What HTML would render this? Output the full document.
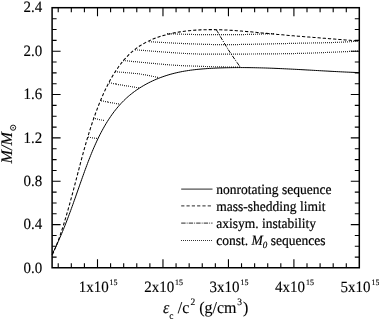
<!DOCTYPE html>
<html><head><meta charset="utf-8"><style>
html,body{margin:0;padding:0;background:#fff;width:379px;height:319px;overflow:hidden;font-family:"Liberation Serif",serif;}
</style></head><body>
<svg width="379" height="319" viewBox="0 0 379 319" style="position:absolute;left:0;top:0;will-change:transform">
<g fill="none" stroke="#000" stroke-linecap="butt">
<path d="M58.22 267.75v-4.5M58.22 7.7v4.5M71.31 267.75v-4.5M71.31 7.7v4.5M84.41 267.75v-4.5M84.41 7.7v4.5M97.50 267.75v-8.5M97.50 7.7v8.5M110.59 267.75v-4.5M110.59 7.7v4.5M123.69 267.75v-4.5M123.69 7.7v4.5M136.78 267.75v-4.5M136.78 7.7v4.5M149.88 267.75v-4.5M149.88 7.7v4.5M162.97 267.75v-8.5M162.97 7.7v8.5M176.06 267.75v-4.5M176.06 7.7v4.5M189.16 267.75v-4.5M189.16 7.7v4.5M202.25 267.75v-4.5M202.25 7.7v4.5M215.35 267.75v-4.5M215.35 7.7v4.5M228.44 267.75v-8.5M228.44 7.7v8.5M241.53 267.75v-4.5M241.53 7.7v4.5M254.63 267.75v-4.5M254.63 7.7v4.5M267.72 267.75v-4.5M267.72 7.7v4.5M280.82 267.75v-4.5M280.82 7.7v4.5M293.91 267.75v-8.5M293.91 7.7v8.5M307.00 267.75v-4.5M307.00 7.7v4.5M320.10 267.75v-4.5M320.10 7.7v4.5M333.19 267.75v-4.5M333.19 7.7v4.5M346.29 267.75v-4.5M346.29 7.7v4.5M52.1 257.16h4.5M359.3 257.16h-4.5M52.1 246.32h4.5M359.3 246.32h-4.5M52.1 235.48h4.5M359.3 235.48h-4.5M52.1 224.64h8.5M359.3 224.64h-8.5M52.1 213.80h4.5M359.3 213.80h-4.5M52.1 202.96h4.5M359.3 202.96h-4.5M52.1 192.12h4.5M359.3 192.12h-4.5M52.1 181.28h8.5M359.3 181.28h-8.5M52.1 170.44h4.5M359.3 170.44h-4.5M52.1 159.60h4.5M359.3 159.60h-4.5M52.1 148.76h4.5M359.3 148.76h-4.5M52.1 137.92h8.5M359.3 137.92h-8.5M52.1 127.08h4.5M359.3 127.08h-4.5M52.1 116.24h4.5M359.3 116.24h-4.5M52.1 105.40h4.5M359.3 105.40h-4.5M52.1 94.56h8.5M359.3 94.56h-8.5M52.1 83.72h4.5M359.3 83.72h-4.5M52.1 72.88h4.5M359.3 72.88h-4.5M52.1 62.04h4.5M359.3 62.04h-4.5M52.1 51.20h8.5M359.3 51.20h-8.5M52.1 40.36h4.5M359.3 40.36h-4.5M52.1 29.52h4.5M359.3 29.52h-4.5M52.1 18.68h4.5M359.3 18.68h-4.5" stroke-width="1.1"/>
<rect x="52.1" y="7.7" width="307.20" height="260.05" stroke-width="1.5"/>
<path d="M52.00 254.61 L52.96 252.69 L53.90 250.78 L54.83 248.86 L55.74 246.95 L56.63 245.03 L57.51 243.11 L58.37 241.20 L59.22 239.28 L60.06 237.37 L60.88 235.45 L61.69 233.54 L62.49 231.62 L63.28 229.70 L64.06 227.78 L64.83 225.86 L65.59 223.94 L66.34 222.02 L67.08 220.10 L67.82 218.17 L68.54 216.25 L69.26 214.32 L69.98 212.39 L70.69 210.46 L71.39 208.53 L72.09 206.59 L72.79 204.66 L73.48 202.72 L74.17 200.78 L74.86 198.84 L75.55 196.90 L76.23 194.95 L76.92 193.00 L77.60 191.05 L78.29 189.09 L78.98 187.14 L79.66 185.18 L80.36 183.21 L81.05 181.25 L81.75 179.28 L82.45 177.31 L83.16 175.33 L83.87 173.35 L84.58 171.37 L85.31 169.39 L86.04 167.40 L86.78 165.42 L87.52 163.43 L88.28 161.45 L89.04 159.47 L89.82 157.49 L90.60 155.52 L91.40 153.55 L92.21 151.59 L93.03 149.63 L93.87 147.68 L94.72 145.74 L95.58 143.80 L96.46 141.88 L97.35 139.97 L98.26 138.06 L99.19 136.17 L100.14 134.30 L101.10 132.43 L102.08 130.58 L103.09 128.75 L104.11 126.93 L105.15 125.13 L106.22 123.35 L107.30 121.58 L108.41 119.84 L109.55 118.11 L110.70 116.41 L111.88 114.72 L113.09 113.06 L114.32 111.43 L115.58 109.81 L116.87 108.23 L118.18 106.66 L119.52 105.13 L120.89 103.62 L122.29 102.14 L123.72 100.69 L125.18 99.27 L126.68 97.88 L128.20 96.53 L129.76 95.20 L131.35 93.91 L132.96 92.65 L134.61 91.42 L136.29 90.22 L137.99 89.06 L139.72 87.93 L141.47 86.83 L143.25 85.77 L145.06 84.74 L146.88 83.74 L148.72 82.78 L150.59 81.85 L152.47 80.95 L154.37 80.08 L156.29 79.25 L158.23 78.46 L160.18 77.69 L162.14 76.97 L164.12 76.27 L166.11 75.61 L168.10 74.98 L170.11 74.39 L172.13 73.83 L174.16 73.31 L176.19 72.82 L178.23 72.36 L180.28 71.93 L182.33 71.53 L184.39 71.16 L186.45 70.82 L188.52 70.50 L190.59 70.20 L192.67 69.93 L194.75 69.68 L196.83 69.45 L198.92 69.24 L201.01 69.05 L203.10 68.88 L205.19 68.72 L207.28 68.57 L209.38 68.44 L211.47 68.32 L213.57 68.22 L215.66 68.12 L217.75 68.03 L219.84 67.95 L221.93 67.88 L224.02 67.82 L226.11 67.76 L228.19 67.72 L230.28 67.68 L232.36 67.64 L234.45 67.62 L236.53 67.60 L238.62 67.59 L240.70 67.59 L242.78 67.59 L244.86 67.60 L246.94 67.62 L249.02 67.64 L251.10 67.67 L253.18 67.70 L255.26 67.74 L257.33 67.79 L259.41 67.84 L261.49 67.89 L263.56 67.95 L265.64 68.01 L267.72 68.08 L269.79 68.16 L271.87 68.23 L273.94 68.31 L276.02 68.40 L278.09 68.48 L280.17 68.58 L282.24 68.67 L284.32 68.77 L286.39 68.87 L288.46 68.97 L290.54 69.07 L292.61 69.18 L294.69 69.29 L296.76 69.40 L298.84 69.51 L300.91 69.62 L302.99 69.74 L305.07 69.85 L307.14 69.97 L309.22 70.09 L311.30 70.20 L313.37 70.32 L315.45 70.44 L317.53 70.56 L319.61 70.68 L321.69 70.79 L323.77 70.91 L325.85 71.03 L327.93 71.14 L330.01 71.25 L332.09 71.37 L334.17 71.48 L336.26 71.59 L338.34 71.69 L340.43 71.80 L342.51 71.90 L344.60 72.00 L346.69 72.10 L348.78 72.19 L350.87 72.29 L352.96 72.37 L355.05 72.46 L357.14 72.54 L359.24 72.62" stroke-width="1.0"/>
<path d="M52.41 254.62 L53.36 252.56 L54.27 250.48 L55.17 248.39 L56.03 246.30 L56.87 244.19 L57.68 242.07 L58.48 239.95 L59.25 237.82 L60.00 235.68 L60.74 233.54 L61.45 231.39 L62.16 229.23 L62.85 227.07 L63.53 224.90 L64.20 222.73 L64.86 220.55 L65.52 218.38 L66.16 216.19 L66.80 214.01 L67.44 211.82 L68.07 209.63 L68.69 207.44 L69.30 205.25 L69.91 203.05 L70.52 200.86 L71.12 198.66 L71.71 196.46 L72.31 194.26 L72.89 192.06 L73.48 189.85 L74.06 187.65 L74.64 185.45 L75.21 183.25 L75.79 181.05 L76.36 178.85 L76.94 176.65 L77.51 174.45 L78.08 172.25 L78.65 170.05 L79.23 167.85 L79.81 165.65 L80.39 163.46 L80.97 161.26 L81.55 159.07 L82.14 156.88 L82.74 154.69 L83.33 152.50 L83.94 150.31 L84.55 148.12 L85.16 145.94 L85.78 143.76 L86.41 141.58 L87.05 139.41 L87.70 137.23 L88.35 135.06 L89.01 132.90 L89.69 130.73 L90.37 128.57 L91.07 126.41 L91.77 124.25 L92.49 122.10 L93.22 119.95 L93.96 117.81 L94.72 115.67 L95.49 113.53 L96.27 111.40 L97.07 109.27 L97.88 107.14 L98.71 105.02 L99.56 102.90 L100.42 100.79 L101.30 98.68 L102.20 96.58 L103.12 94.49 L104.06 92.40 L105.02 90.32 L106.01 88.26 L107.02 86.20 L108.05 84.16 L109.12 82.13 L110.21 80.12 L111.33 78.12 L112.49 76.14 L113.67 74.18 L114.89 72.24 L116.15 70.32 L117.44 68.42 L118.76 66.55 L120.13 64.70 L121.53 62.89 L122.97 61.12 L124.45 59.38 L125.97 57.69 L127.52 56.04 L129.13 54.45 L130.77 52.90 L132.45 51.41 L134.18 49.97 L135.95 48.60 L137.76 47.29 L139.62 46.04 L141.51 44.85 L143.44 43.72 L145.40 42.64 L147.40 41.61 L149.43 40.64 L151.48 39.73 L153.57 38.86 L155.68 38.04 L157.81 37.27 L159.96 36.54 L162.14 35.86 L164.33 35.22 L166.53 34.63 L168.75 34.08 L170.98 33.56 L173.22 33.08 L175.47 32.64 L177.73 32.24 L179.98 31.87 L182.24 31.53 L184.51 31.22 L186.77 30.94 L189.03 30.69 L191.30 30.47 L193.57 30.28 L195.83 30.11 L198.10 29.97 L200.37 29.86 L202.65 29.77 L204.92 29.70 L207.19 29.65 L209.46 29.63 L211.74 29.63 L214.01 29.64 L216.29 29.68 L218.56 29.73 L220.84 29.80 L223.12 29.89 L225.39 29.99 L227.67 30.10 L229.95 30.23 L232.23 30.37 L234.50 30.53 L236.78 30.69 L239.06 30.86 L241.33 31.05 L243.61 31.24 L245.89 31.43 L248.16 31.64 L250.44 31.84 L252.71 32.06 L254.98 32.27 L257.26 32.49 L259.53 32.71 L261.80 32.94 L264.07 33.16 L266.34 33.38 L268.61 33.60 L270.87 33.81 L273.14 34.02 L275.40 34.23 L277.67 34.44 L279.93 34.64 L282.19 34.85 L284.45 35.04 L286.71 35.24 L288.97 35.43 L291.23 35.63 L293.49 35.81 L295.75 36.00 L298.01 36.19 L300.27 36.37 L302.53 36.56 L304.78 36.74 L307.04 36.92 L309.30 37.10 L311.56 37.28 L313.82 37.45 L316.08 37.63 L318.34 37.81 L320.60 37.98 L322.86 38.16 L325.12 38.34 L327.39 38.51 L329.65 38.69 L331.92 38.87 L334.18 39.04 L336.45 39.22 L338.72 39.40 L340.99 39.58 L343.26 39.76 L345.54 39.94 L347.81 40.13 L350.09 40.31 L352.37 40.50 L354.65 40.69 L356.93 40.88 L359.21 41.07" stroke-width="1.05" stroke-dasharray="3.2 2.0"/>
<path d="M167 33.11h1.0v1.2h-1.0zM169 33.18h1.0v1.2h-1.0zM171 33.24h1.0v1.2h-1.0zM173 33.31h1.0v1.2h-1.0zM175 33.37h1.0v1.2h-1.0zM177 33.44h1.0v1.2h-1.0zM179 33.5h1.0v1.2h-1.0zM181 33.57h1.0v1.2h-1.0zM183 33.63h1.0v1.2h-1.0zM185 33.68h1.0v1.2h-1.0zM187 33.74h1.0v1.2h-1.0zM189 33.79h1.0v1.2h-1.0zM191 33.84h1.0v1.2h-1.0zM193 33.89h1.0v1.2h-1.0zM195 33.93h1.0v1.2h-1.0zM197 33.96h1.0v1.2h-1.0zM199 33.99h1.0v1.2h-1.0zM201 34.02h1.0v1.2h-1.0zM203 34.04h1.0v1.2h-1.0zM205 34.06h1.0v1.2h-1.0zM207 34.07h1.0v1.2h-1.0zM209 34.09h1.0v1.2h-1.0zM211 34.1h1.0v1.2h-1.0zM213 34.11h1.0v1.2h-1.0zM215 34.11h1.0v1.2h-1.0zM217 34.12h1.0v1.2h-1.0zM219 34.12h1.0v1.2h-1.0zM221 34.12h1.0v1.2h-1.0zM223 34.12h1.0v1.2h-1.0zM225 34.11h1.0v1.2h-1.0zM227 34.1h1.0v1.2h-1.0zM229 34.09h1.0v1.2h-1.0zM231 34.08h1.0v1.2h-1.0zM233 34.07h1.0v1.2h-1.0zM235 34.05h1.0v1.2h-1.0zM237 34.03h1.0v1.2h-1.0zM239 34.01h1.0v1.2h-1.0zM241 33.98h1.0v1.2h-1.0zM243 33.94h1.0v1.2h-1.0zM245 33.9h1.0v1.2h-1.0zM247 33.86h1.0v1.2h-1.0zM249 33.81h1.0v1.2h-1.0zM251 33.76h1.0v1.2h-1.0zM253 33.7h1.0v1.2h-1.0zM255 33.64h1.0v1.2h-1.0zM257 33.58h1.0v1.2h-1.0zM259 33.52h1.0v1.2h-1.0zM261 33.45h1.0v1.2h-1.0zM263 33.39h1.0v1.2h-1.0zM265 33.32h1.0v1.2h-1.0zM267 33.25h1.0v1.2h-1.0zM269 33.18h1.0v1.2h-1.0zM271 33.11h1.0v1.2h-1.0zM273 33.05h1.0v1.2h-1.0zM149 41.13h1.0v1.2h-1.0zM151 41.23h1.0v1.2h-1.0zM153 41.34h1.0v1.2h-1.0zM155 41.46h1.0v1.2h-1.0zM157 41.57h1.0v1.2h-1.0zM159 41.68h1.0v1.2h-1.0zM161 41.79h1.0v1.2h-1.0zM163 41.91h1.0v1.2h-1.0zM165 42.02h1.0v1.2h-1.0zM167 42.13h1.0v1.2h-1.0zM169 42.23h1.0v1.2h-1.0zM171 42.34h1.0v1.2h-1.0zM173 42.44h1.0v1.2h-1.0zM175 42.55h1.0v1.2h-1.0zM177 42.65h1.0v1.2h-1.0zM179 42.75h1.0v1.2h-1.0zM181 42.84h1.0v1.2h-1.0zM183 42.93h1.0v1.2h-1.0zM185 43.02h1.0v1.2h-1.0zM187 43.1h1.0v1.2h-1.0zM189 43.18h1.0v1.2h-1.0zM191 43.25h1.0v1.2h-1.0zM193 43.33h1.0v1.2h-1.0zM195 43.4h1.0v1.2h-1.0zM197 43.47h1.0v1.2h-1.0zM199 43.55h1.0v1.2h-1.0zM201 43.62h1.0v1.2h-1.0zM203 43.68h1.0v1.2h-1.0zM205 43.74h1.0v1.2h-1.0zM207 43.8h1.0v1.2h-1.0zM209 43.85h1.0v1.2h-1.0zM211 43.89h1.0v1.2h-1.0zM213 43.93h1.0v1.2h-1.0zM215 43.96h1.0v1.2h-1.0zM217 43.98h1.0v1.2h-1.0zM219 44.0h1.0v1.2h-1.0zM221 44.01h1.0v1.2h-1.0zM223 44.01h1.0v1.2h-1.0zM225 44.01h1.0v1.2h-1.0zM227 44.01h1.0v1.2h-1.0zM229 44.0h1.0v1.2h-1.0zM231 43.99h1.0v1.2h-1.0zM233 43.97h1.0v1.2h-1.0zM235 43.95h1.0v1.2h-1.0zM237 43.93h1.0v1.2h-1.0zM239 43.9h1.0v1.2h-1.0zM241 43.87h1.0v1.2h-1.0zM243 43.84h1.0v1.2h-1.0zM245 43.8h1.0v1.2h-1.0zM247 43.77h1.0v1.2h-1.0zM249 43.73h1.0v1.2h-1.0zM251 43.69h1.0v1.2h-1.0zM253 43.65h1.0v1.2h-1.0zM255 43.61h1.0v1.2h-1.0zM257 43.57h1.0v1.2h-1.0zM259 43.52h1.0v1.2h-1.0zM261 43.48h1.0v1.2h-1.0zM263 43.44h1.0v1.2h-1.0zM265 43.39h1.0v1.2h-1.0zM267 43.35h1.0v1.2h-1.0zM269 43.3h1.0v1.2h-1.0zM271 43.25h1.0v1.2h-1.0zM273 43.21h1.0v1.2h-1.0zM275 43.16h1.0v1.2h-1.0zM277 43.11h1.0v1.2h-1.0zM279 43.07h1.0v1.2h-1.0zM281 43.02h1.0v1.2h-1.0zM283 42.97h1.0v1.2h-1.0zM285 42.93h1.0v1.2h-1.0zM287 42.88h1.0v1.2h-1.0zM289 42.83h1.0v1.2h-1.0zM291 42.79h1.0v1.2h-1.0zM293 42.74h1.0v1.2h-1.0zM295 42.7h1.0v1.2h-1.0zM297 42.65h1.0v1.2h-1.0zM299 42.61h1.0v1.2h-1.0zM301 42.57h1.0v1.2h-1.0zM303 42.53h1.0v1.2h-1.0zM305 42.49h1.0v1.2h-1.0zM307 42.46h1.0v1.2h-1.0zM309 42.42h1.0v1.2h-1.0zM311 42.39h1.0v1.2h-1.0zM313 42.35h1.0v1.2h-1.0zM315 42.32h1.0v1.2h-1.0zM317 42.28h1.0v1.2h-1.0zM319 42.25h1.0v1.2h-1.0zM321 42.21h1.0v1.2h-1.0zM323 42.17h1.0v1.2h-1.0zM325 42.12h1.0v1.2h-1.0zM327 42.07h1.0v1.2h-1.0zM329 42.02h1.0v1.2h-1.0zM331 41.96h1.0v1.2h-1.0zM333 41.89h1.0v1.2h-1.0zM335 41.82h1.0v1.2h-1.0zM337 41.74h1.0v1.2h-1.0zM339 41.65h1.0v1.2h-1.0zM341 41.56h1.0v1.2h-1.0zM343 41.46h1.0v1.2h-1.0zM345 41.36h1.0v1.2h-1.0zM347 41.25h1.0v1.2h-1.0zM349 41.14h1.0v1.2h-1.0zM351 41.01h1.0v1.2h-1.0zM353 40.85h1.0v1.2h-1.0zM355 40.66h1.0v1.2h-1.0zM357 40.43h1.0v1.2h-1.0zM135 49.24h1.0v1.2h-1.0zM137 49.39h1.0v1.2h-1.0zM139 49.54h1.0v1.2h-1.0zM141 49.69h1.0v1.2h-1.0zM143 49.85h1.0v1.2h-1.0zM145 50.01h1.0v1.2h-1.0zM147 50.16h1.0v1.2h-1.0zM149 50.32h1.0v1.2h-1.0zM151 50.48h1.0v1.2h-1.0zM153 50.63h1.0v1.2h-1.0zM155 50.79h1.0v1.2h-1.0zM157 50.94h1.0v1.2h-1.0zM159 51.09h1.0v1.2h-1.0zM161 51.24h1.0v1.2h-1.0zM163 51.39h1.0v1.2h-1.0zM165 51.54h1.0v1.2h-1.0zM167 51.69h1.0v1.2h-1.0zM169 51.83h1.0v1.2h-1.0zM171 51.98h1.0v1.2h-1.0zM173 52.12h1.0v1.2h-1.0zM175 52.25h1.0v1.2h-1.0zM177 52.39h1.0v1.2h-1.0zM179 52.52h1.0v1.2h-1.0zM181 52.64h1.0v1.2h-1.0zM183 52.76h1.0v1.2h-1.0zM185 52.88h1.0v1.2h-1.0zM187 52.99h1.0v1.2h-1.0zM189 53.08h1.0v1.2h-1.0zM191 53.17h1.0v1.2h-1.0zM193 53.25h1.0v1.2h-1.0zM195 53.33h1.0v1.2h-1.0zM197 53.4h1.0v1.2h-1.0zM199 53.45h1.0v1.2h-1.0zM201 53.5h1.0v1.2h-1.0zM203 53.54h1.0v1.2h-1.0zM205 53.57h1.0v1.2h-1.0zM207 53.58h1.0v1.2h-1.0zM209 53.59h1.0v1.2h-1.0zM211 53.59h1.0v1.2h-1.0zM213 53.58h1.0v1.2h-1.0zM215 53.57h1.0v1.2h-1.0zM217 53.56h1.0v1.2h-1.0zM219 53.55h1.0v1.2h-1.0zM221 53.54h1.0v1.2h-1.0zM223 53.53h1.0v1.2h-1.0zM225 53.52h1.0v1.2h-1.0zM227 53.51h1.0v1.2h-1.0zM229 53.5h1.0v1.2h-1.0zM231 53.5h1.0v1.2h-1.0zM233 53.49h1.0v1.2h-1.0zM235 53.48h1.0v1.2h-1.0zM237 53.48h1.0v1.2h-1.0zM239 53.47h1.0v1.2h-1.0zM241 53.46h1.0v1.2h-1.0zM243 53.45h1.0v1.2h-1.0zM245 53.44h1.0v1.2h-1.0zM247 53.43h1.0v1.2h-1.0zM249 53.42h1.0v1.2h-1.0zM251 53.41h1.0v1.2h-1.0zM253 53.4h1.0v1.2h-1.0zM255 53.39h1.0v1.2h-1.0zM257 53.37h1.0v1.2h-1.0zM259 53.36h1.0v1.2h-1.0zM261 53.34h1.0v1.2h-1.0zM263 53.33h1.0v1.2h-1.0zM265 53.31h1.0v1.2h-1.0zM267 53.29h1.0v1.2h-1.0zM269 53.27h1.0v1.2h-1.0zM271 53.25h1.0v1.2h-1.0zM273 53.23h1.0v1.2h-1.0zM275 53.21h1.0v1.2h-1.0zM277 53.18h1.0v1.2h-1.0zM279 53.16h1.0v1.2h-1.0zM281 53.13h1.0v1.2h-1.0zM283 53.1h1.0v1.2h-1.0zM285 53.07h1.0v1.2h-1.0zM287 53.04h1.0v1.2h-1.0zM289 53.01h1.0v1.2h-1.0zM291 52.97h1.0v1.2h-1.0zM293 52.94h1.0v1.2h-1.0zM295 52.9h1.0v1.2h-1.0zM297 52.85h1.0v1.2h-1.0zM299 52.81h1.0v1.2h-1.0zM301 52.76h1.0v1.2h-1.0zM303 52.7h1.0v1.2h-1.0zM305 52.65h1.0v1.2h-1.0zM307 52.59h1.0v1.2h-1.0zM309 52.52h1.0v1.2h-1.0zM311 52.45h1.0v1.2h-1.0zM313 52.38h1.0v1.2h-1.0zM315 52.31h1.0v1.2h-1.0zM317 52.24h1.0v1.2h-1.0zM319 52.16h1.0v1.2h-1.0zM321 52.08h1.0v1.2h-1.0zM323 52.0h1.0v1.2h-1.0zM325 51.92h1.0v1.2h-1.0zM327 51.83h1.0v1.2h-1.0zM329 51.75h1.0v1.2h-1.0zM331 51.66h1.0v1.2h-1.0zM333 51.57h1.0v1.2h-1.0zM335 51.48h1.0v1.2h-1.0zM337 51.39h1.0v1.2h-1.0zM339 51.3h1.0v1.2h-1.0zM341 51.21h1.0v1.2h-1.0zM343 51.11h1.0v1.2h-1.0zM345 51.02h1.0v1.2h-1.0zM347 50.93h1.0v1.2h-1.0zM349 50.83h1.0v1.2h-1.0zM351 50.74h1.0v1.2h-1.0zM353 50.65h1.0v1.2h-1.0zM355 50.56h1.0v1.2h-1.0zM357 50.47h1.0v1.2h-1.0zM123 59.95h1.0v1.2h-1.0zM125 60.14h1.0v1.2h-1.0zM127 60.34h1.0v1.2h-1.0zM129 60.53h1.0v1.2h-1.0zM131 60.73h1.0v1.2h-1.0zM133 60.93h1.0v1.2h-1.0zM135 61.12h1.0v1.2h-1.0zM137 61.32h1.0v1.2h-1.0zM139 61.52h1.0v1.2h-1.0zM141 61.71h1.0v1.2h-1.0zM143 61.91h1.0v1.2h-1.0zM145 62.1h1.0v1.2h-1.0zM147 62.29h1.0v1.2h-1.0zM149 62.49h1.0v1.2h-1.0zM151 62.68h1.0v1.2h-1.0zM153 62.87h1.0v1.2h-1.0zM155 63.05h1.0v1.2h-1.0zM157 63.24h1.0v1.2h-1.0zM159 63.42h1.0v1.2h-1.0zM161 63.6h1.0v1.2h-1.0zM163 63.77h1.0v1.2h-1.0zM165 63.95h1.0v1.2h-1.0zM167 64.11h1.0v1.2h-1.0zM169 64.27h1.0v1.2h-1.0zM171 64.42h1.0v1.2h-1.0zM173 64.56h1.0v1.2h-1.0zM175 64.68h1.0v1.2h-1.0zM177 64.8h1.0v1.2h-1.0zM179 64.91h1.0v1.2h-1.0zM181 65.02h1.0v1.2h-1.0zM183 65.11h1.0v1.2h-1.0zM185 65.19h1.0v1.2h-1.0zM187 65.27h1.0v1.2h-1.0zM189 65.34h1.0v1.2h-1.0zM191 65.41h1.0v1.2h-1.0zM193 65.48h1.0v1.2h-1.0zM195 65.54h1.0v1.2h-1.0zM197 65.61h1.0v1.2h-1.0zM199 65.68h1.0v1.2h-1.0zM201 65.76h1.0v1.2h-1.0zM203 65.84h1.0v1.2h-1.0zM205 65.91h1.0v1.2h-1.0zM207 65.98h1.0v1.2h-1.0zM209 66.04h1.0v1.2h-1.0zM211 66.1h1.0v1.2h-1.0zM213 66.16h1.0v1.2h-1.0zM215 66.2h1.0v1.2h-1.0zM217 66.25h1.0v1.2h-1.0zM219 66.29h1.0v1.2h-1.0zM221 66.33h1.0v1.2h-1.0zM223 66.36h1.0v1.2h-1.0zM225 66.38h1.0v1.2h-1.0zM227 66.4h1.0v1.2h-1.0zM229 66.42h1.0v1.2h-1.0zM231 66.44h1.0v1.2h-1.0zM233 66.45h1.0v1.2h-1.0zM235 66.47h1.0v1.2h-1.0zM237 66.48h1.0v1.2h-1.0zM239 66.49h1.0v1.2h-1.0zM115 71.14h1.0v1.2h-1.0zM117 71.31h1.0v1.2h-1.0zM119 71.47h1.0v1.2h-1.0zM121 71.64h1.0v1.2h-1.0zM123 71.8h1.0v1.2h-1.0zM125 71.96h1.0v1.2h-1.0zM127 72.13h1.0v1.2h-1.0zM129 72.31h1.0v1.2h-1.0zM131 72.49h1.0v1.2h-1.0zM133 72.68h1.0v1.2h-1.0zM135 72.89h1.0v1.2h-1.0zM137 73.11h1.0v1.2h-1.0zM139 73.36h1.0v1.2h-1.0zM141 73.64h1.0v1.2h-1.0zM143 73.97h1.0v1.2h-1.0zM145 74.32h1.0v1.2h-1.0zM147 74.69h1.0v1.2h-1.0zM149 75.08h1.0v1.2h-1.0zM151 75.49h1.0v1.2h-1.0zM153 75.91h1.0v1.2h-1.0zM155 76.34h1.0v1.2h-1.0zM157 76.77h1.0v1.2h-1.0zM109 82.28h1.0v1.2h-1.0zM111 82.61h1.0v1.2h-1.0zM113 82.94h1.0v1.2h-1.0zM115 83.28h1.0v1.2h-1.0zM116 83.61h1.0v1.2h-1.0zM118 83.94h1.0v1.2h-1.0zM120 84.27h1.0v1.2h-1.0zM122 84.6h1.0v1.2h-1.0zM124 84.93h1.0v1.2h-1.0zM126 85.26h1.0v1.2h-1.0zM128 85.59h1.0v1.2h-1.0zM130 85.92h1.0v1.2h-1.0zM132 86.25h1.0v1.2h-1.0zM134 86.58h1.0v1.2h-1.0zM136 86.92h1.0v1.2h-1.0zM138 87.25h1.0v1.2h-1.0zM101 100.28h1.0v1.2h-1.0zM103 100.62h1.0v1.2h-1.0zM105 100.96h1.0v1.2h-1.0zM107 101.3h1.0v1.2h-1.0zM108 101.64h1.0v1.2h-1.0zM110 101.98h1.0v1.2h-1.0zM112 102.32h1.0v1.2h-1.0zM114 102.66h1.0v1.2h-1.0zM116 102.99h1.0v1.2h-1.0zM118 103.33h1.0v1.2h-1.0zM93 117.52h1.0v1.2h-1.0zM95 117.99h1.0v1.2h-1.0zM97 118.46h1.0v1.2h-1.0zM99 118.93h1.0v1.2h-1.0zM101 119.39h1.0v1.2h-1.0zM103 119.86h1.0v1.2h-1.0zM88 136.58h1.0v1.2h-1.0zM90 136.9h1.0v1.2h-1.0zM92 137.22h1.0v1.2h-1.0zM94 137.54h1.0v1.2h-1.0zM96 137.85h1.0v1.2h-1.0z" fill="#000" stroke="none" opacity="0.8"/>
<path d="M216.50 30.00C218.50 33.33 224.55 43.83 228.50 50.00C232.45 56.17 238.25 64.17 240.20 67.00" stroke-width="1.0" stroke-dasharray="4 1.3 1 1.3"/>
<path d="M181.2 189.1H212.5" stroke-width="1.0" stroke-opacity="0.85"/>
<path d="M181.2 205.9H212.5" stroke-width="1.0" stroke-opacity="0.85" stroke-dasharray="3.2 2.1"/>
<path d="M181.2 223.1H212.5" stroke-width="1.0" stroke-opacity="0.85" stroke-dasharray="4.4 1.1 0.9 1.1"/>
<path d="M181 239.9h1.0v1.0h-1.0zM183 239.9h1.0v1.0h-1.0zM185 239.9h1.0v1.0h-1.0zM187 239.9h1.0v1.0h-1.0zM189 239.9h1.0v1.0h-1.0zM191 239.9h1.0v1.0h-1.0zM193 239.9h1.0v1.0h-1.0zM195 239.9h1.0v1.0h-1.0zM197 239.9h1.0v1.0h-1.0zM199 239.9h1.0v1.0h-1.0zM201 239.9h1.0v1.0h-1.0zM203 239.9h1.0v1.0h-1.0zM205 239.9h1.0v1.0h-1.0zM207 239.9h1.0v1.0h-1.0zM209 239.9h1.0v1.0h-1.0zM211 239.9h1.0v1.0h-1.0z" fill="#000" stroke="none" opacity="0.8"/>
</g>
<g font-family="Liberation Serif" text-rendering="geometricPrecision" fill="#000" stroke="#000" stroke-width="0.12"><text transform="translate(42.3 272.6) scale(1 1.05)" text-anchor="end" font-size="15.0">0.0</text>
<text transform="translate(42.3 229.2) scale(1 1.05)" text-anchor="end" font-size="15.0">0.4</text>
<text transform="translate(42.3 185.9) scale(1 1.05)" text-anchor="end" font-size="15.0">0.8</text>
<text transform="translate(42.3 142.5) scale(1 1.05)" text-anchor="end" font-size="15.0">1.2</text>
<text transform="translate(42.3 99.2) scale(1 1.05)" text-anchor="end" font-size="15.0">1.6</text>
<text transform="translate(42.3 55.8) scale(1 1.05)" text-anchor="end" font-size="15.0">2.0</text>
<text transform="translate(42.3 12.4) scale(1 1.05)" text-anchor="end" font-size="15.0">2.4</text>
<text transform="translate(98.1 292.0) scale(1 1.05)" text-anchor="middle" font-size="15.0">1x10<tspan font-size="8" dy="-6.4" dx="0.8">15</tspan></text>
<text transform="translate(163.6 292.0) scale(1 1.05)" text-anchor="middle" font-size="15.0">2x10<tspan font-size="8" dy="-6.4" dx="0.8">15</tspan></text>
<text transform="translate(229.0 292.0) scale(1 1.05)" text-anchor="middle" font-size="15.0">3x10<tspan font-size="8" dy="-6.4" dx="0.8">15</tspan></text>
<text transform="translate(294.5 292.0) scale(1 1.05)" text-anchor="middle" font-size="15.0">4x10<tspan font-size="8" dy="-6.4" dx="0.8">15</tspan></text>
<text transform="translate(360.0 292.0) scale(1 1.05)" text-anchor="middle" font-size="15.0">5x10<tspan font-size="8" dy="-6.4" dx="0.8">15</tspan></text>
<text transform="translate(216.3 193.9) scale(1 1.05)" font-size="13.5" stroke-width="0.2">nonrotating sequence</text>
<text transform="translate(216.3 210.7) scale(1 1.05)" font-size="13.5" stroke-width="0.2">mass-shedding limit</text>
<text transform="translate(216.3 227.9) scale(1 1.05)" font-size="13.5" stroke-width="0.2">axisym. instability</text>
<text transform="translate(216.3 245.2) scale(1 1.05)" font-size="13.5" stroke-width="0.2">const. <tspan font-style="italic" dy="-0.6">M</tspan><tspan font-style="italic" font-size="9" dy="2.8">0</tspan><tspan dy="-2.2"> sequences</tspan></text>
<text transform="translate(163 313.4) scale(1 1.04)" font-size="16"><tspan font-style="italic">ε</tspan><tspan font-size="9.5" dy="5">c</tspan><tspan dy="-5" dx="0.3"> /c</tspan><tspan font-size="9.5" dy="-8.2" dx="1">2</tspan><tspan dy="8.2"> (g/cm</tspan><tspan font-size="9.5" dy="-8.2" dx="0.8">3</tspan><tspan dy="8.2" dx="1.0">)</tspan></text>
<text transform="translate(11.6 163.4) rotate(-90)" font-size="16.2" font-style="italic">M/M</text>
<circle cx="13.1" cy="127.7" r="2.6" fill="none" stroke-width="0.9"/><circle cx="13.1" cy="127.7" r="0.7" stroke="none"/></g>
</svg>
</body></html>
